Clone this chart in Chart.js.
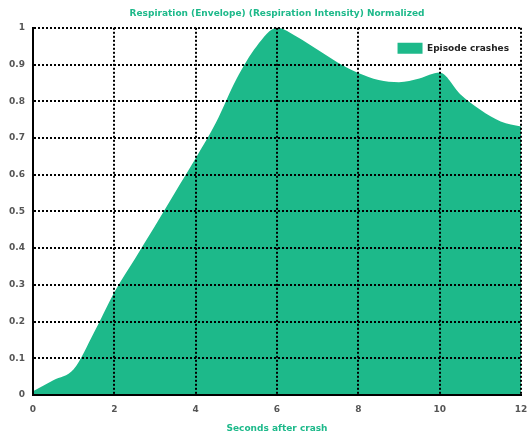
<!DOCTYPE html>
<html>
<head>
<meta charset="utf-8">
<script src="https://cdn.jsdelivr.net/npm/chart.js@4/dist/chart.umd.min.js"></script>
<style>
  html, body { margin: 0; padding: 0; background: #fff; }
  #wrap { width: 530px; height: 438px; }
</style>
</head>
<body>
<div id="wrap"><canvas id="chart"></canvas></div>
<script>
const seconds = [0, 0.5, 1, 1.5, 2, 2.5, 3, 3.5, 4, 4.5, 5, 5.5, 6, 6.5, 7, 7.5, 8, 8.5, 9, 9.5, 10, 10.5, 11, 11.5, 12];
const respiration = [0.01, 0.04, 0.07, 0.17, 0.28, 0.37, 0.46, 0.553, 0.645, 0.742, 0.86, 0.95, 1.0, 0.975, 0.94, 0.905, 0.877, 0.858, 0.852, 0.862, 0.878, 0.82, 0.777, 0.745, 0.731];
const xTicks = [0, 2, 4, 6, 8, 10, 12];
const seriesName = 'Episode crashes';

const green = 'rgb(29, 185, 138)';
const font = "'DejaVu Sans', sans-serif";

// put the legend in the top right corner of the plot, on a white patch over the grid
const legendCorner = {
    id: 'legendCorner',
    afterLayout(chart) {
        const l = chart.legend;
        const a = chart.chartArea;
        if (!l) return;
        const w = l.width;
        l.left = a.right - w - 2;
        l.right = l.left + w;
        l.top = a.top + 5;
        l.bottom = a.bottom;
    },
    afterDraw(chart) {
        const l = chart.legend;
        const a = chart.chartArea;
        if (!l || !l.legendHitBoxes.length) return;
        const hb = l.legendHitBoxes[0];
        const ctx = chart.ctx;
        ctx.save();
        ctx.fillStyle = '#fff';
        ctx.fillRect(hb.left - 36, a.top + 2, a.right - 2 - (hb.left - 36), hb.top + hb.height + 6 - a.top);
        ctx.restore();
        l.draw();
    }
};

const axisBorder = { color: '#000', width: 2, dash: [2, 2], z: 1 };

new Chart(document.getElementById('chart'), {
    type: 'line',
    data: {
        datasets: [{
            label: seriesName,
            data: seconds.map((s, i) => ({ x: s, y: respiration[i] })),
            borderColor: green,
            backgroundColor: green,
            borderWidth: 0,
            fill: 'origin',
            pointRadius: 0,
            cubicInterpolationMode: 'monotone'
        }]
    },
    plugins: [legendCorner],
    options: {
        responsive: true,
        maintainAspectRatio: false,
        animation: false,
        layout: { padding: 0 },
        plugins: {
            title: {
                display: true,
                fullSize: false,
                text: 'Respiration (Envelope) (Respiration Intensity) Normalized',
                color: green,
                font: { family: font, size: 9, weight: 'bold', lineHeight: 1.2 },
                padding: { top: 8, bottom: 9 }
            },
            legend: {
                position: 'chartArea',
                align: 'start',
                labels: {
                    boxWidth: 25,
                    boxHeight: 11,
                    color: '#222',
                    padding: 10,
                    font: { family: font, size: 9, weight: 'bold' }
                }
            },
            tooltip: { enabled: false }
        },
        scales: {
            x: {
                type: 'linear',
                min: 0,
                max: 12,
                afterBuildTicks: axis => { axis.ticks = xTicks.map(v => ({ value: v })); },
                afterFit: axis => {
                    axis.height = 43;
                    axis.paddingLeft = 0;
                    axis.paddingRight = 9;
                },
                grid: { color: '#000', lineWidth: 2, drawTicks: false, z: 1 },
                border: axisBorder,
                ticks: {
                    color: '#555',
                    padding: 9,
                    maxRotation: 0,
                    font: { family: font, size: 9, weight: 'bold' }
                },
                title: {
                    display: true,
                    text: 'Seconds after crash',
                    color: green,
                    padding: { top: 6 },
                    font: { family: font, size: 9, weight: 'bold' }
                }
            },
            y: {
                min: 0,
                max: 1,
                afterFit: axis => { axis.width = 33; },
                grid: { color: '#000', lineWidth: 2, drawTicks: false, z: 1 },
                border: axisBorder,
                ticks: {
                    stepSize: 0.1,
                    color: '#555',
                    padding: 8,
                    callback: v => String(+v.toFixed(1)),
                    font: { family: font, size: 9, weight: 'bold' }
                }
            }
        }
    }
});
</script>
</body>
</html>
